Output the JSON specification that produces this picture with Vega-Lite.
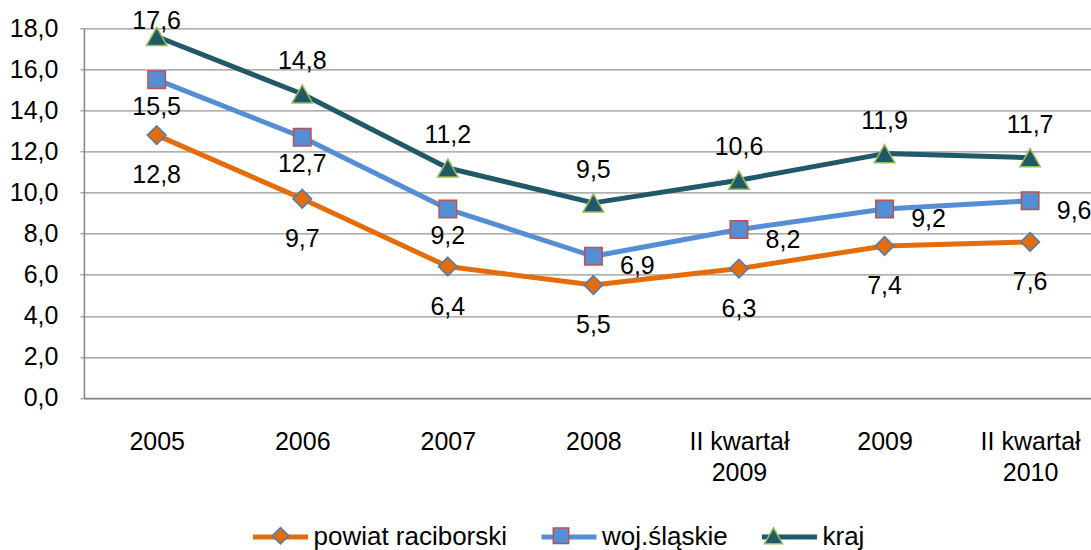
{
  "$schema": "https://vega.github.io/schema/vega-lite/v6.json",
  "width": 1019,
  "height": 369.7,
  "autosize": {"type": "none"},
  "padding": {"left": 83.9, "top": 28.3, "right": 0, "bottom": 152},
  "background": "white",
  "config": {
    "locale": {"number": {"decimal": ",", "thousands": " ", "grouping": [3], "currency": ["", " zł"]}},
    "font": "Liberation Sans",
    "view": {"stroke": null}
  },
  "data": {
    "values": [
      {"okres": "2005", "seria": "powiat raciborski", "wartosc": 12.8},
      {"okres": "2006", "seria": "powiat raciborski", "wartosc": 9.7},
      {"okres": "2007", "seria": "powiat raciborski", "wartosc": 6.4},
      {"okres": "2008", "seria": "powiat raciborski", "wartosc": 5.5},
      {"okres": "II kwartał 2009", "seria": "powiat raciborski", "wartosc": 6.3},
      {"okres": "2009", "seria": "powiat raciborski", "wartosc": 7.4},
      {"okres": "II kwartał 2010", "seria": "powiat raciborski", "wartosc": 7.6},
      {"okres": "2005", "seria": "woj.śląskie", "wartosc": 15.5},
      {"okres": "2006", "seria": "woj.śląskie", "wartosc": 12.7},
      {"okres": "2007", "seria": "woj.śląskie", "wartosc": 9.2},
      {"okres": "2008", "seria": "woj.śląskie", "wartosc": 6.9},
      {"okres": "II kwartał 2009", "seria": "woj.śląskie", "wartosc": 8.2},
      {"okres": "2009", "seria": "woj.śląskie", "wartosc": 9.2},
      {"okres": "II kwartał 2010", "seria": "woj.śląskie", "wartosc": 9.6},
      {"okres": "2005", "seria": "kraj", "wartosc": 17.6},
      {"okres": "2006", "seria": "kraj", "wartosc": 14.8},
      {"okres": "2007", "seria": "kraj", "wartosc": 11.2},
      {"okres": "2008", "seria": "kraj", "wartosc": 9.5},
      {"okres": "II kwartał 2009", "seria": "kraj", "wartosc": 10.6},
      {"okres": "2009", "seria": "kraj", "wartosc": 11.9},
      {"okres": "II kwartał 2010", "seria": "kraj", "wartosc": 11.7}
    ]
  },
  "encoding": {
    "x": {
      "field": "okres",
      "type": "nominal",
      "sort": ["2005", "2006", "2007", "2008", "II kwartał 2009", "2009", "II kwartał 2010"],
      "scale": {"type": "point", "padding": 0.5},
      "axis": {
        "title": null,
        "labelFontSize": 25,
        "labelFont": "Liberation Sans",
        "labelColor": "black",
        "labelAngle": 0,
        "ticks": false,
        "labelPadding": 52,
        "labelBaseline": "alphabetic",
        "labelLineHeight": 31,
        "labelLimit": 400,
        "grid": false,
        "domainColor": "#868686",
        "domainWidth": 1.5,
        "labelExpr": "indexof(datum.label, 'kwartał') >= 0 ? [slice(datum.label, 0, 10), slice(datum.label, 11)] : datum.label"
      }
    },
    "y": {
      "field": "wartosc",
      "type": "quantitative",
      "scale": {"domain": [0, 18], "nice": false},
      "axis": {
        "title": null,
        "values": [0, 2, 4, 6, 8, 10, 12, 14, 16, 18],
        "format": ".1f",
        "labelFontSize": 25,
        "labelFont": "Liberation Sans",
        "labelColor": "black",
        "labelPadding": 22,
        "tickSize": 4,
        "tickColor": "#868686",
        "domainColor": "#868686",
        "domainWidth": 1.5,
        "gridColor": "#969696",
        "gridWidth": 1.3
      }
    }
  },
  "layer": [
    {
      "mark": {"type": "line", "strokeWidth": 5, "strokeCap": "round", "strokeJoin": "round"},
      "encoding": {
        "color": {
          "field": "seria",
          "type": "nominal",
          "sort": ["powiat raciborski", "woj.śląskie", "kraj"],
          "scale": {"range": ["#E46C0A", "#558ED5", "#215968"]},
          "legend": {
            "orient": "none",
            "legendX": 166.6,
            "legendY": 478.7,
            "direction": "horizontal",
            "title": null,
            "symbolType": "stroke",
            "symbolSize": 3025,
            "symbolStrokeWidth": 5,
            "labelFontSize": 26,
            "labelFont": "Liberation Sans",
            "labelColor": "black",
            "labelOffset": 3,
            "columnPadding": 23.5,
            "labelLimit": 400,
            "padding": 0,
            "zindex": 1
          }
        }
      }
    },
    {
      "mark": {"type": "point", "filled": true, "size": 3900, "strokeWidth": 1.5, "opacity": 1},
      "encoding": {
        "shape": {
          "field": "seria",
          "type": "nominal",
          "scale": {
            "domain": ["powiat raciborski", "woj.śląskie", "kraj"],
            "range": ["M0,-0.3L0.3,0L0,0.3L-0.3,0Z", "M-0.28,-0.28H0.28V0.28H-0.28Z", "M0,-0.29L0.33,0.29L-0.33,0.29Z"]
          },
          "legend": {
            "orient": "none",
            "legendX": 168.1,
            "legendY": 478.7,
            "direction": "horizontal",
            "title": null,
            "symbolSize": 3025,
            "symbolStrokeWidth": 1.5,
            "labelFontSize": 26,
            "labelFont": "Liberation Sans",
            "labelOpacity": 0,
            "labelOffset": 6,
            "columnPadding": 23.5,
            "labelLimit": 400,
            "padding": 0,
            "zindex": 2
          }
        },
        "fill": {
          "field": "seria",
          "type": "nominal",
          "scale": {
            "domain": ["powiat raciborski", "woj.śląskie", "kraj"],
            "range": ["#E46C0A", "#558ED5", "#215968"]
          },
          "legend": {
            "orient": "none",
            "legendX": 168.1,
            "legendY": 478.7,
            "direction": "horizontal",
            "title": null,
            "symbolSize": 3025,
            "symbolStrokeWidth": 1.5,
            "labelFontSize": 26,
            "labelFont": "Liberation Sans",
            "labelOpacity": 0,
            "labelOffset": 6,
            "columnPadding": 23.5,
            "labelLimit": 400,
            "padding": 0,
            "zindex": 2
          }
        },
        "stroke": {
          "field": "seria",
          "type": "nominal",
          "scale": {
            "domain": ["powiat raciborski", "woj.śląskie", "kraj"],
            "range": ["#4A7EBB", "#C0504D", "#9BBB59"]
          },
          "legend": {
            "orient": "none",
            "legendX": 168.1,
            "legendY": 478.7,
            "direction": "horizontal",
            "title": null,
            "symbolSize": 3025,
            "symbolStrokeWidth": 1.5,
            "labelFontSize": 26,
            "labelFont": "Liberation Sans",
            "labelOpacity": 0,
            "labelOffset": 6,
            "columnPadding": 23.5,
            "labelLimit": 400,
            "padding": 0,
            "zindex": 2
          }
        }
      }
    },
    {
      "transform": [{"filter": {"field": "seria", "equal": "powiat raciborski"}}],
      "mark": {"type": "text", "dy": 40, "fontSize": 25, "font": "Liberation Sans", "baseline": "middle", "align": "center", "color": "black"},
      "encoding": {"text": {"field": "wartosc", "type": "quantitative", "format": ".1f"}}
    },
    {
      "transform": [{"filter": {"and": [{"field": "seria", "equal": "kraj"}, {"not": {"field": "okres", "equal": "2005"}}]}}],
      "mark": {"type": "text", "dy": -33, "fontSize": 25, "font": "Liberation Sans", "baseline": "middle", "align": "center", "color": "black"},
      "encoding": {"text": {"field": "wartosc", "type": "quantitative", "format": ".1f"}}
    },
    {
      "transform": [{"filter": {"and": [{"field": "seria", "equal": "kraj"}, {"field": "okres", "equal": "2005"}]}}],
      "mark": {"type": "text", "dy": -16, "fontSize": 25, "font": "Liberation Sans", "baseline": "middle", "align": "center", "color": "black"},
      "encoding": {"text": {"field": "wartosc", "type": "quantitative", "format": ".1f"}}
    },
    {
      "transform": [{"filter": {"and": [{"field": "seria", "equal": "woj.śląskie"}, {"field": "okres", "oneOf": ["2005", "2006", "2007"]}]}}],
      "mark": {"type": "text", "dy": 27, "fontSize": 25, "font": "Liberation Sans", "baseline": "middle", "align": "center", "color": "black"},
      "encoding": {"text": {"field": "wartosc", "type": "quantitative", "format": ".1f"}}
    },
    {
      "transform": [{"filter": {"and": [{"field": "seria", "equal": "woj.śląskie"}, {"field": "okres", "oneOf": ["2008", "II kwartał 2009", "2009", "II kwartał 2010"]}]}}],
      "mark": {"type": "text", "dx": 44, "dy": 10, "fontSize": 25, "font": "Liberation Sans", "baseline": "middle", "align": "center", "color": "black"},
      "encoding": {"text": {"field": "wartosc", "type": "quantitative", "format": ".1f"}}
    }
  ]
}
